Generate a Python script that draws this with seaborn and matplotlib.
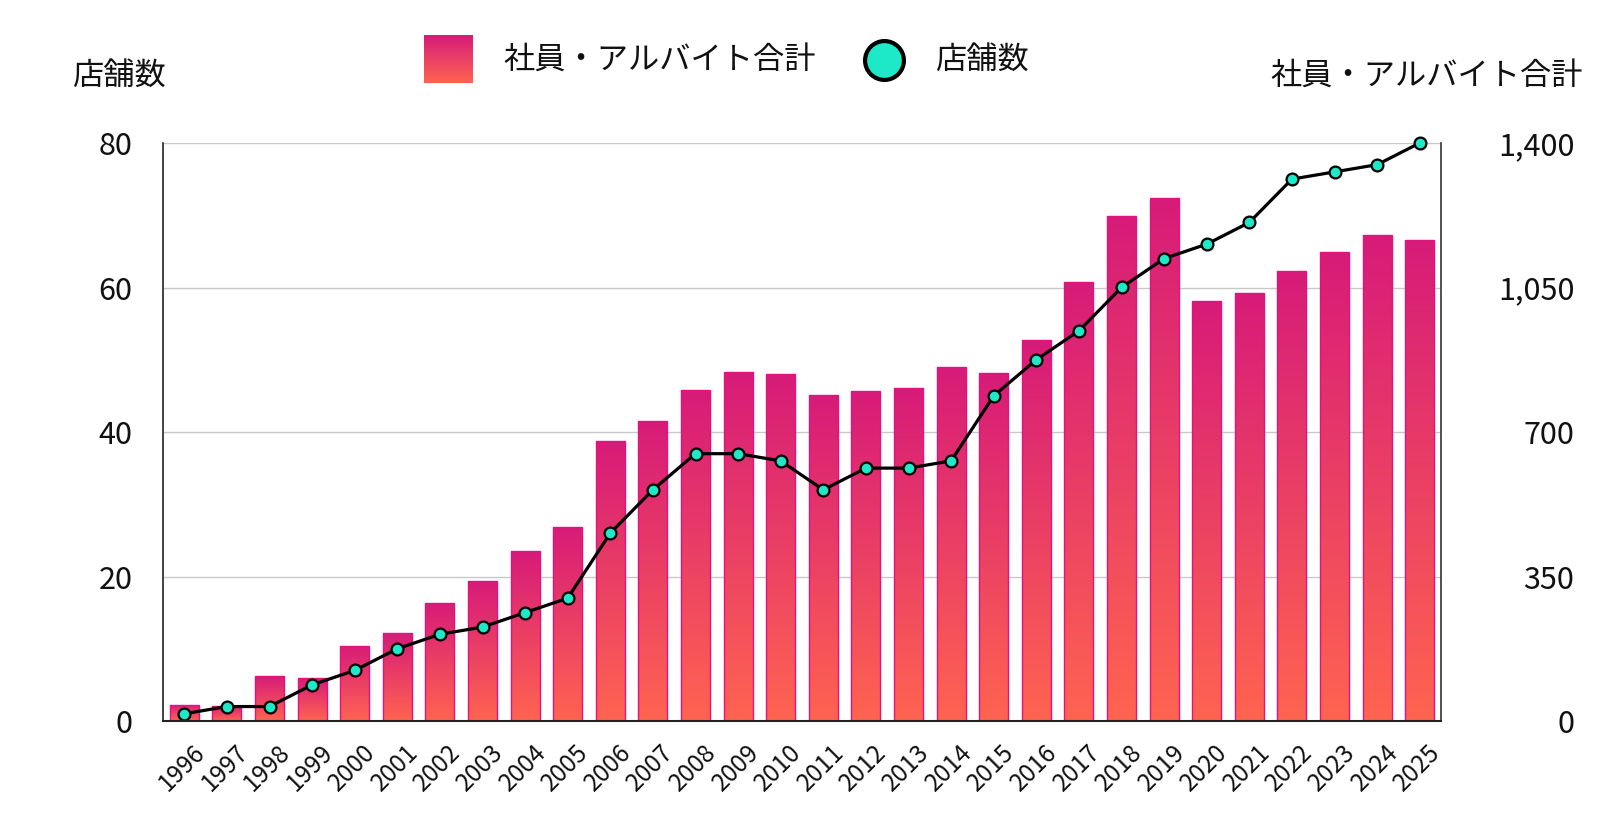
import numpy as np
import pandas as pd
import matplotlib
matplotlib.use("Agg")
import matplotlib.pyplot as plt
import matplotlib.transforms as mtrans
from matplotlib.colors import LinearSegmentedColormap
from matplotlib.lines import Line2D
from matplotlib.ticker import FuncFormatter
import seaborn as sns

# ---------------- data ----------------
years = ["1996", "1997", "1998", "1999", "2000", "2001", "2002", "2003", "2004", "2005",
         "2006", "2007", "2008", "2009", "2010", "2011", "2012", "2013", "2014", "2015",
         "2016", "2017", "2018", "2019", "2020", "2021", "2022", "2023", "2024", "2025"]
staff_total = [39, 37, 108, 103, 182, 212, 286, 339, 411, 471,
               678, 727, 801, 846, 840, 789, 799, 807, 857, 842,
               922, 1064, 1223, 1267, 1018, 1037, 1089, 1135, 1176, 1166]
store_count = [1, 2, 2, 5, 7, 10, 12, 13, 15, 17,
               26, 32, 37, 37, 36, 32, 35, 35, 36, 45,
               50, 54, 60, 64, 66, 69, 75, 76, 77, 80]
left_ticks = [0, 20, 40, 60, 80]
right_ticks = [0, 350, 700, 1050, 1400]
label_bar = "社員・アルバイト合計"
label_line = "店舗数"

# ---------------- style ----------------
sns.set_style("white")
plt.rcParams["font.family"] = ["Noto Sans CJK JP", "DejaVu Sans"]

TOP_COL = "#D71B79"
BOT_COL = "#FF6450"
EDGE_COL = "#E3127F"
DOT_COL = "#1DE9C9"

W, H = 1600, 830
fig = plt.figure(figsize=(W / 100, H / 100), dpi=100)
ax = fig.add_axes([163 / W, 1 - 721 / H, (1441 - 163) / W, (721 - 143) / H])
ax2 = ax.twinx()

df = pd.DataFrame({"year": years, "staff": staff_total, "stores": store_count})

# bars (right axis)
sns.barplot(data=df, x="year", y="staff", ax=ax2, width=0.68, color=TOP_COL,
            edgecolor=EDGE_COL, linewidth=1.0, zorder=2)
cmap = LinearSegmentedColormap.from_list("grad", [BOT_COL, TOP_COL])
grad = np.linspace(0, 1, 256).reshape(-1, 1)
for p in list(ax2.patches):
    x0, w, h = p.get_x(), p.get_width(), p.get_height()
    im = ax2.imshow(grad, extent=[x0, x0 + w, 0, h], origin="lower", cmap=cmap,
                    aspect="auto", zorder=1.9, interpolation="bilinear")
    im.set_clip_path(p)
    p.set_facecolor("none")
ax2.set_xlim(-0.5, len(years) - 0.5)
ax2.set_ylim(0, 1400)
ax2.set_yticks(right_ticks)
ax2.yaxis.set_major_formatter(FuncFormatter(lambda v, _: f"{int(v):,}"))
ax2.grid(axis="y", color="#C8C8C8", linewidth=1.0)
ax2.grid(axis="x", visible=False)
ax2.set_axisbelow(True)
ax2.set_ylabel("")
ax2.tick_params(axis="y", length=0, pad=96, labelsize=22, colors="#111111")

# line (left axis)
sns.pointplot(data=df, x="year", y="stores", ax=ax, color="black", markers="o",
              linestyles="-", errorbar=None, linewidth=2.3, markersize=8.5,
              markeredgewidth=1.6)
for ln in ax.lines:
    ln.set_markerfacecolor(DOT_COL)
    ln.set_markeredgecolor("black")
    ln.set_clip_on(False)
ax.set_zorder(ax2.get_zorder() + 1)
ax.patch.set_visible(False)
ax.set_xlim(-0.5, len(years) - 0.5)
ax.set_ylim(0, 80)
ax.set_yticks(left_ticks)
ax.grid(False)
ax.set_xlabel("")
ax.set_ylabel("")
ax.tick_params(axis="y", length=0, pad=22, labelsize=22, colors="#111111")
ax.tick_params(axis="x", length=0, pad=20, labelsize=17.5, colors="#111111")

plt.setp(ax2.get_yticklabels(), ha="right")
shift = mtrans.ScaledTranslation(17 / 100, 0, fig.dpi_scale_trans)
for lab in ax.get_xticklabels():
    lab.set_rotation(45)
    lab.set_rotation_mode("anchor")
    lab.set_ha("right")
    lab.set_va("center")
    lab.set_transform(lab.get_transform() + shift)

# spines
for a in (ax, ax2):
    a.spines["top"].set_visible(False)
ax.spines["left"].set_color("#222222")
ax.spines["left"].set_linewidth(1.2)
ax.spines["bottom"].set_color("#222222")
ax.spines["bottom"].set_linewidth(1.5)
ax.spines["right"].set_visible(False)
ax2.spines["left"].set_visible(False)
ax2.spines["bottom"].set_visible(False)
ax2.spines["right"].set_color("#333333")
ax2.spines["right"].set_linewidth(1.2)

# axis titles
fig.text(72 / W, 1 - 76 / H, label_line, fontsize=22.5, ha="left", va="center", color="#111111")
fig.text(1583 / W, 1 - 76 / H, label_bar, fontsize=22.5, ha="right", va="center", color="#111111")

# legend (top center)
lax = fig.add_axes([424 / W, 1 - 83 / H, 48 / W, 48 / H])
lax.imshow(grad, origin="lower", cmap=cmap, aspect="auto", extent=[0, 1, 0, 1])
lax.set_axis_off()
fig.text(503 / W, 1 - 60 / H, label_bar, fontsize=22.5, ha="left", va="center", color="#111111")
fig.add_artist(Line2D([883.5 / W], [1 - 60 / H], transform=fig.transFigure, marker="o",
                      markersize=28, markerfacecolor=DOT_COL, markeredgecolor="black",
                      markeredgewidth=3, linestyle="none"))
fig.text(935 / W, 1 - 60 / H, label_line, fontsize=22.5, ha="left", va="center", color="#111111")

fig.savefig("out.png", dpi=100, facecolor="white")
